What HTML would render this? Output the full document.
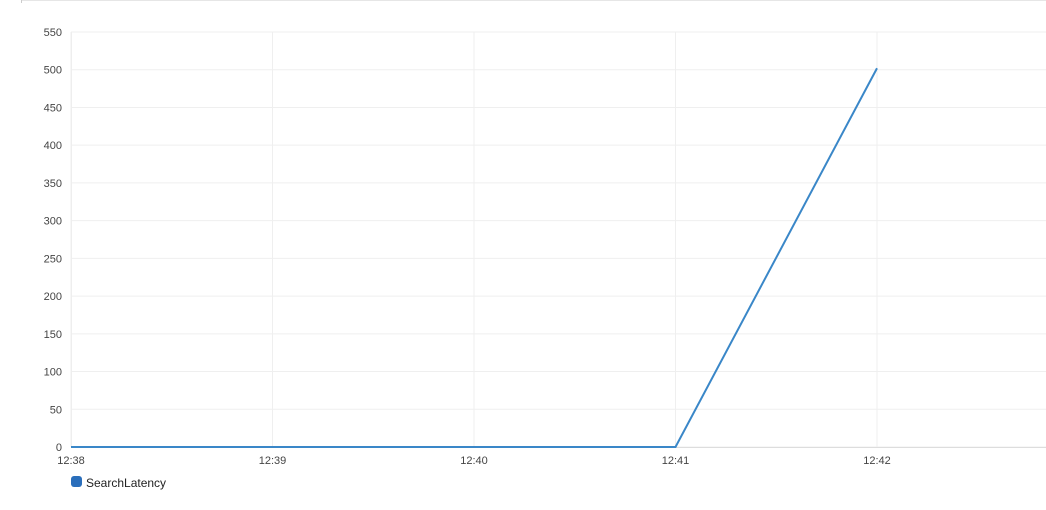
<!DOCTYPE html>
<html><head><meta charset="utf-8"><style>
html,body{margin:0;padding:0;background:#fff;width:1046px;height:510px;overflow:hidden;font-family:"Liberation Sans",sans-serif}
</style></head><body>
<svg width="1046" height="510">
<line x1="21" y1="0.5" x2="1046" y2="0.5" stroke="#e6e6e6"/>
<line x1="21.5" y1="0" x2="21.5" y2="3" stroke="#ccc"/>
<g id="grid"></g><g id="axes"></g><g id="series"></g>
<g>
<rect x="71" y="476" width="11" height="11" rx="3" fill="#2a6ebb"/>
<text x="86" y="487" font-size="12" fill="#222">SearchLatency</text>
</g>
</svg>
<script>
const xLabels=["12:38","12:39","12:40","12:41","12:42"];
const values=[0,0,0,0,502];
const yTicks=[0,50,100,150,200,250,300,350,400,450,500,550];
const NS="http://www.w3.org/2000/svg";
const x0=71,step=201.5,yb=447,yt=32,ymax=550,right=1046;
const xs=i=>x0+i*step, ys=v=>yb-(v/ymax)*(yb-yt);
function mk(t,a,p){const e=document.createElementNS(NS,t);for(const k in a)e.setAttribute(k,a[k]);p.appendChild(e);return e;}
const grid=document.getElementById('grid'),axes=document.getElementById('axes'),ser=document.getElementById('series');
yTicks.forEach(v=>{
 const l=mk('line',{x1:x0,x2:right,y1:ys(v),y2:ys(v),stroke:'#efefef'},grid);
 
 
 const t=mk('text',{x:62,y:ys(v)+4,'text-anchor':'end','font-size':11,fill:'#444'},axes);
 t.textContent=v;
 
 
});
xLabels.forEach((s,i)=>{
 const l=mk('line',{x1:xs(i),x2:xs(i),y1:yt,y2:yb,stroke:'#efefef'},grid);
 
 
 const t=mk('text',{x:xs(i),y:464,'text-anchor':'middle','font-size':11,fill:'#444'},axes);
 t.textContent=s;
 
 
});
const ax=mk('line',{x1:x0,x2:right,y1:yb+0.5,y2:yb+0.5,stroke:'#ddd'},axes);


const yax=mk('line',{x1:x0+0.5,x2:x0+0.5,y1:yt,y2:yb,stroke:'#eee'},axes);


const p=mk('polyline',{points:values.map((v,i)=>xs(i)+','+ys(v)).join(' '),fill:'none',stroke:'#3a87c8','stroke-width':2},ser);


</script>
</body></html>
